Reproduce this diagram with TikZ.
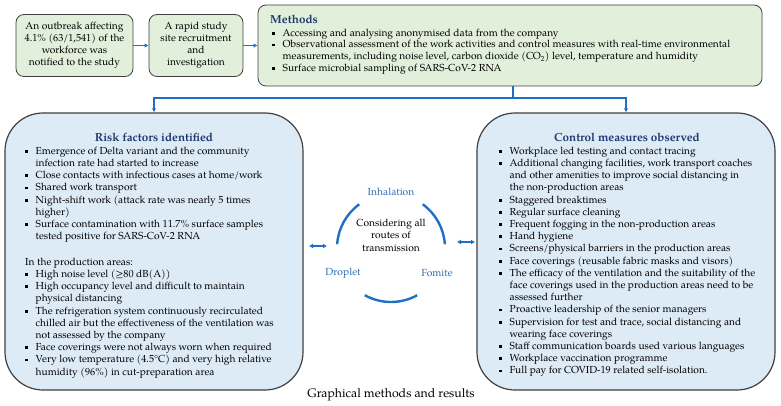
\documentclass[tikz,border=0pt]{standalone}
\usepackage{fontspec}
\setmainfont{texgyrepagella}[Extension=.otf,UprightFont=*-regular,BoldFont=*-bold,ItalicFont=*-italic,BoldItalicFont=*-bolditalic]
\usetikzlibrary{arrows.meta}
\definecolor{gfill}{HTML}{E2EFDA}
\definecolor{bfill}{HTML}{DDEBF7}
\definecolor{bord}{HTML}{404040}
\definecolor{lblue}{HTML}{1F6FC5}
\definecolor{tblue}{HTML}{1F3A6E}
\definecolor{rblue}{HTML}{2E6DB4}
\newcommand{\bul}{\makebox[10.5pt][l]{\rule[0.3ex]{2.8pt}{2.8pt}}}
\newcommand{\ind}{\hspace*{10.5pt}}
\tikzset{
  smallbox/.style={draw=bord, fill=gfill, rounded corners=8pt, line width=0.8pt, align=center, inner sep=0pt, font=\fontsize{10.2}{12}\selectfont},
  bigbox/.style={draw=bord, fill=bfill, rounded corners=38pt, line width=1.2pt, inner sep=0pt},
  txt/.style={font=\fontsize{10.2}{12.2}\selectfont, align=left, inner sep=0pt, anchor=north west},
  ttl/.style={font=\fontsize{11.7}{13}\selectfont\bfseries, text=tblue, inner sep=0pt},
  route/.style={font=\fontsize{10.3}{12}\selectfont, text=rblue, inner sep=0pt},
  conn/.style={draw=lblue, line width=1.3pt, -{Latex[length=4pt,width=4.5pt]}},
  plainconn/.style={draw=lblue, line width=1.3pt},
  arcline/.style={draw=lblue, line width=2.4pt},
  dbl/.style={draw=lblue, line width=1.2pt, {Latex[length=4pt,width=5pt]}-{Latex[length=4pt,width=5pt]}}
}
\begin{document}
\begin{tikzpicture}[x=1pt,y=-1pt]
\useasboundingbox (0,0) rectangle (781,406);
\fill[white] (0,0) rectangle (781,406);

% top boxes
\node[smallbox, minimum width=117pt, minimum height=62pt] (b1) at (74.5,45.5)
  {An outbreak affecting\\4.1\% (63/1,541) of the\\workforce was\\notified to the study};
\node[smallbox, minimum width=94pt, minimum height=62pt] (b2) at (196,45.5)
  {A rapid study\\site recruitment\\and\\investigation};
\node[smallbox, minimum width=504pt, minimum height=81pt] (meth) at (510,45.5) {};
\node[ttl, anchor=base west] (mt) at (270,24) {Methods};
\node[txt, font=\fontsize{10.2}{11.7}\selectfont] (mtx) at (272,28.6)
  {\bul Accessing and analysing anonymised data from the company\\
   \bul Observational assessment of the work activities and control measures with real-time environmental\\
   \ind measurements, including noise level, carbon dioxide (CO\textsubscript{2}) level, temperature and humidity\\
   \bul Surface microbial sampling of SARS-CoV-2 RNA};

\draw[conn] (b1.east) -- (b2.west);
\draw[conn] (b2.east) -- (b2.east -| meth.west);

% big boxes
\node[bigbox, minimum width=298pt, minimum height=277pt] (lb) at (154,251.5) {};
\node[bigbox, minimum width=298pt, minimum height=277pt] (rb) at (626,251.5) {};

\coordinate (j) at (513,98);
\draw[plainconn] (j |- meth.south) -- (j);
\draw[conn] (j) -| (lb.north);
\draw[conn] (j) -| (rb.north);

% left box text
\node[ttl, anchor=base] (lt) at (154,141.5) {Risk factors identified};
\node[txt] (ltx1) at (25,146.6)
  {\bul Emergence of Delta variant and the community\\
   \ind infection rate had started to increase\\
   \bul Close contacts with infectious cases at home/work\\
   \bul Shared work transport\\
   \bul Night-shift work (attack rate was nearly 5 times\\
   \ind higher)\\
   \bul Surface contamination with 11.7\% surface samples\\
   \ind tested positive for SARS-CoV-2 RNA};
\node[txt] (ltx2) at (25,257.6)
  {In the production areas:\\
   \bul High noise level (≥80 dB(A))\\
   \bul High occupancy level and difficult to maintain\\
   \ind physical distancing\\
   \bul The refrigeration system continuously recirculated\\
   \ind chilled air but the effectiveness of the ventilation was\\
   \ind not assessed by the company\\
   \bul Face coverings were not always worn when required\\
   \bul Very low temperature (4.5°C) and very high relative\\
   \ind humidity (96\%) in cut-preparation area};

% right box text
\node[ttl, anchor=base] (rt) at (627,141.5) {Control measures observed};
\node[txt] (rtx) at (499,146.6)
  {\bul Workplace led testing and contact tracing\\
   \bul Additional changing facilities, work transport coaches\\
   \ind and other amenities to improve social distancing in\\
   \ind the non-production areas\\
   \bul Staggered breaktimes\\
   \bul Regular surface cleaning\\
   \bul Frequent fogging in the non-production areas\\
   \bul Hand hygiene\\
   \bul Screens/physical barriers in the production areas\\
   \bul Face coverings (reusable fabric masks and visors)\\
   \bul The efficacy of the ventilation and the suitability of the\\
   \ind face coverings used in the production areas need to be\\
   \ind assessed further\\
   \bul Proactive leadership of the senior managers\\
   \bul Supervision for test and trace, social distancing and\\
   \ind wearing face coverings\\
   \bul Staff communication boards used various languages\\
   \bul Workplace vaccination programme\\
   \bul Full pay for COVID-19 related self-isolation.};

% center cycle
\coordinate (cc) at (391,248);
\draw[arcline] ([shift={(-126:54)}]cc) arc[start angle=-126, end angle=-176, radius=54];
\draw[arcline] ([shift={(-54:54)}]cc) arc[start angle=-54, end angle=-4, radius=54];
\draw[arcline] ([shift={(-241:54)}]cc) arc[start angle=-241, end angle=-299, radius=54];
\node[route] (inh) at (391,192) {Inhalation};
\node[route] (dro) at (343,273) {Droplet};
\node[route] (fom) at (437,273) {Fomite};
\node[align=center, inner sep=0pt, font=\fontsize{10.2}{12.5}\selectfont] (cons) at (391,235)
  {Considering all\\routes of\\transmission};

\coordinate (la) at (309,246);
\coordinate (lb2) at (327,246);
\coordinate (ra) at (457,242);
\coordinate (rb2) at (475,242);
\draw[dbl] (la) -- (lb2);
\draw[dbl] (ra) -- (rb2);

\node[inner sep=0pt, font=\fontsize{12.3}{14}\selectfont] (cap) at (391,395) {Graphical methods and results};
\end{tikzpicture}
\end{document}
